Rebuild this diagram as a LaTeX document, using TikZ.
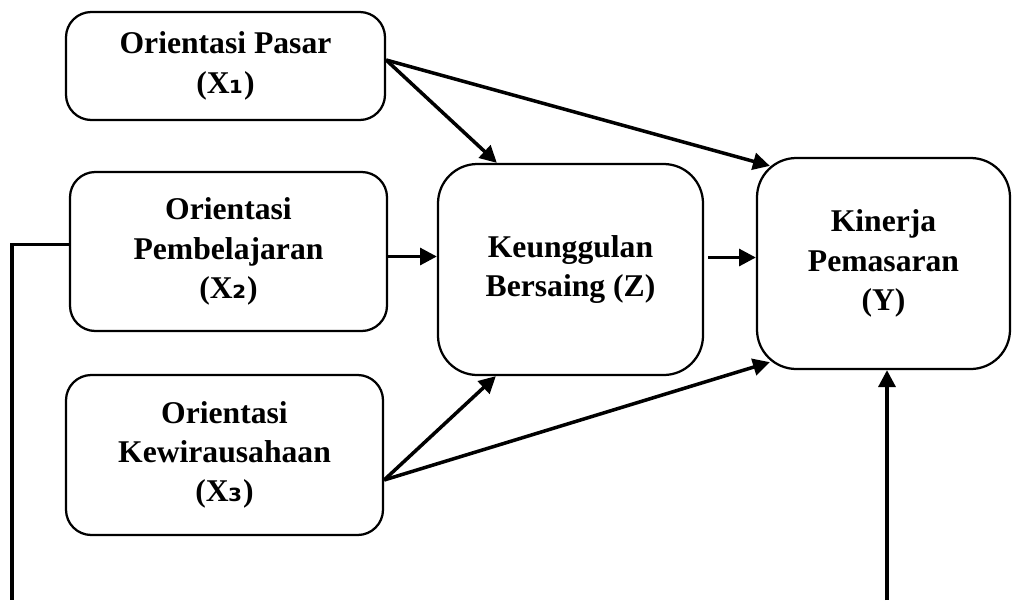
\documentclass[tikz,border=0pt]{standalone}
\usepackage{fontspec}
\setmainfont{Liberation Serif}
\newfontfamily\SubFont{DejaVu Sans}
\usetikzlibrary{arrows.meta,calc}
\newcommand{\Sub}[1]{{\SubFont\bfseries\fontsize{23}{23}\selectfont #1}}
\tikzset{
  VarBox/.style={draw=black,line width=1.6pt,rounded corners=18pt,align=center,
    inner sep=0pt,font=\bfseries\fontsize{22.5}{28}\selectfont},
  ArrowLine/.style={line width=2.5pt,-{Triangle[length=12pt,width=12pt]}},
  PlainLine/.style={line width=2.5pt}
}

\begin{document}
\begin{tikzpicture}[x=0.025cm,y=-0.025cm]
\useasboundingbox (0,0) rectangle (1012,600);

\node[VarBox,minimum width=319*0.025cm,minimum height=108*0.025cm] (x1) at (225.5,66) {Orientasi Pasar\\(X\Sub{₁})};
\node[VarBox,minimum width=317*0.025cm,minimum height=159*0.025cm] (x2) at (228.5,251.5) {Orientasi\\Pembelajaran\\(X\Sub{₂})};
\node[VarBox,minimum width=317*0.025cm,minimum height=160*0.025cm] (x3) at (224.5,455) {Orientasi\\Kewirausahaan\\(X\Sub{₃})};
\node[VarBox,rounded corners=28pt,minimum width=265*0.025cm,minimum height=211*0.025cm] (z) at (570.5,269.5) {Keunggulan\\Bersaing (Z)};
\node[VarBox,rounded corners=28pt,minimum width=253*0.025cm,minimum height=211*0.025cm] (y) at (883.5,263.5) {Kinerja\\Pemasaran\\(Y)};

\coordinate (lb) at (12,600);
\coordinate (rb) at (887,600);
\coordinate (p1) at ($(x1.east)+(0,-6)$);
\coordinate (p2) at ($(x2.east)+(0,5)$);
\coordinate (p3) at ($(z.east)+(4,-12)$);
\coordinate (p4) at ($(x3.east)+(0,25)$);

\draw[ArrowLine] (p1) -- ($(z.north west)+(60,0)$);
\draw[ArrowLine] (p1) -- ($(y.north west)+(14,9)$);
\draw[ArrowLine] (p2) -- (p2 -| z.west);
\draw[ArrowLine] (p3) -- (p3 -| y.west);
\draw[ArrowLine] (p4) -- ($(z.south west)+(59,0)$);
\draw[ArrowLine] (p4) -- ($(y.south west)+(14,-8)$);

\draw[PlainLine] ($(x2.west)+(0,-7)$) -| (lb);
\draw[ArrowLine] (rb) -- (rb |- y.south);

\end{tikzpicture}
\end{document}
